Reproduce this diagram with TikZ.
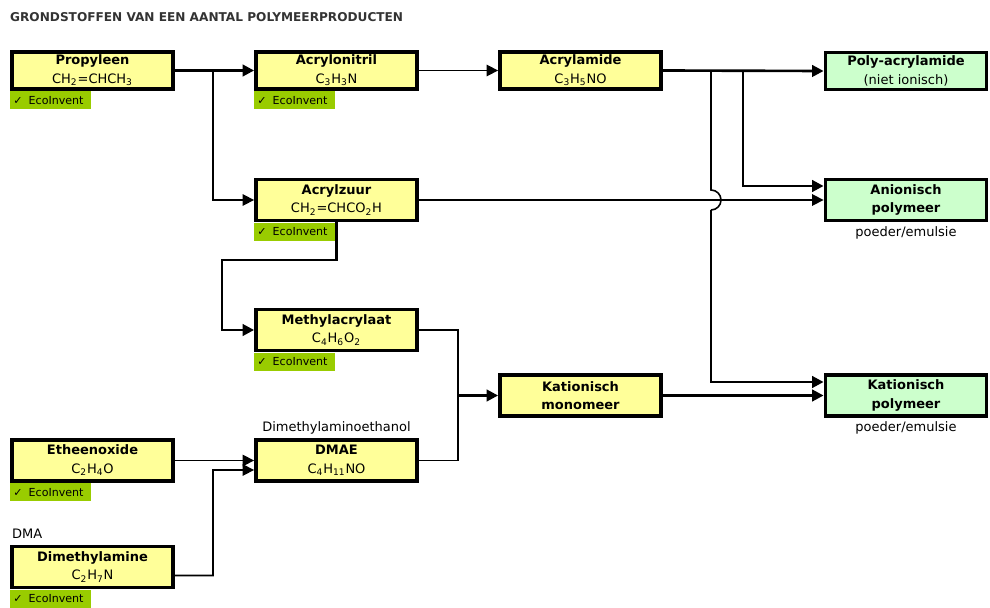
\documentclass[tikz,border=0pt]{standalone}
\usepackage{fontspec}
\setmainfont{DejaVu Sans}
\usetikzlibrary{arrows.meta,positioning}

\definecolor{stofgeel}{HTML}{FFFF99}
\definecolor{productgroen}{HTML}{CCFFCC}
\definecolor{ecogroen}{HTML}{99CC00}
\definecolor{titelgrijs}{HTML}{333333}

% subscript in formulas
\newcommand{\ix}[1]{\textsubscript{#1}}

\tikzset{
  stof/.style={draw, line width=2.2pt, fill=stofgeel, minimum width=3.22cm,
    minimum height=0.82cm, inner sep=0pt, align=center},
  laag/.style={minimum height=0.74cm},
  product/.style={stof, fill=productgroen},
  eco/.style={fill=ecogroen, anchor=north west, text width=1.5cm, inner xsep=0.06cm,
    minimum height=0.36cm, inner ysep=0pt, align=left, font=\fontsize{6.3}{7}\selectfont},
  noot/.style={inner sep=1pt},
  flow/.style={line width=0.9pt, -{Triangle[length=6.5pt,width=6.5pt]}},
  thickflow/.style={flow, line width=1.5pt},
  link/.style={line width=0.9pt},
}

\begin{document}
\begin{tikzpicture}[x=0.02cm, y=-0.02cm, font=\fontsize{7.4}{10.5}\selectfont]
    \useasboundingbox (0,0) rectangle (990,608);

    %Title
    \node[anchor=west, text=titelgrijs, font=\fontsize{6.9}{8}\selectfont\bfseries] (titel) at (4,17)
        {GRONDSTOFFEN VAN EEN AANTAL POLYMEERPRODUCTEN};

    % Raw materials and intermediates
    \node[stof, laag] (prop) at (92.5,70.5) {\textbf{Propyleen}\\CH\ix{2}=CHCH\ix{3}};
    \node[stof, laag] (acn) at (336.5,70.5) {\textbf{Acrylonitril}\\C\ix{3}H\ix{3}N};
    \node[stof, laag] (acm) at (580.5,70.5) {\textbf{Acrylamide}\\C\ix{3}H\ix{5}NO};
    \node[stof] (acz) at (336.5,200) {\textbf{Acrylzuur}\\CH\ix{2}=CHCO\ix{2}H};
    \node[stof] (macr) at (336.5,330) {\textbf{Methylacrylaat}\\C\ix{4}H\ix{6}O\ix{2}};
    \node[stof] (kmon) at (580.5,395.5) {\textbf{Kationisch}\\\textbf{monomeer}};
    \node[stof] (eo) at (92.5,460.5) {\textbf{Etheenoxide}\\C\ix{2}H\ix{4}O};
    \node[stof] (dmae) at (336.5,460.5) {\textbf{DMAE}\\C\ix{4}H\ix{11}NO};
    \node[stof] (dma) at (92.5,567) {\textbf{Dimethylamine}\\C\ix{2}H\ix{7}N};

    % End products
    \node[product, laag] (pam) at (906,71) {\textbf{Poly-acrylamide}\\(niet ionisch)};
    \node[product] (anion) at (906,200) {\textbf{Anionisch}\\\textbf{polymeer}};
    \node[product] (kpol) at (906,395.5) {\textbf{Kationisch}\\\textbf{polymeer}};

    % EcoInvent tags
    \foreach \stof in {prop, acn, acz, macr, eo, dma}
        \node[eco] (\stof-eco) at (\stof.south west) {✓\hspace{0.12cm}EcoInvent};

    % Notes
    \node[noot, above=1pt of dmae] (dmae-naam) {Dimethylaminoethanol};
    \node[noot, anchor=south west] (dma-naam) at ([yshift=2pt]dma.north west) {DMA};
    \node[noot, below=1pt of anion] (anion-vorm) {poeder/emulsie};
    \node[noot, below=1pt of kpol] (kpol-vorm) {poeder/emulsie};

    % Propyleen to acrylonitril and acrylzuur
    \coordinate (split1) at (213,70.5);
    \draw[thickflow] (prop.east) -- (acn.west);
    \draw[flow] (split1) |- (acz.west);

    % Acrylonitril to acrylamide to the polymers
    \draw[flow] (acn.east) -- (acm.west);
    \draw[thickflow] (acm.east) -- (pam.west);
    \coordinate (split2) at (743,70.5);
    \draw[thickflow] (split2) |- ([yshift=0.28cm]anion.west);
    \draw[flow] (acz.east) -- (anion.west);

    % Branch to kationisch polymeer, hopping over the acrylzuur line
    \coordinate (split3) at (711,70.5);
    \coordinate (hoptop) at (711,190);
    \coordinate (hopbot) at (711,210);
    \draw[link] (split3) -- (hoptop) arc[start angle=-90, end angle=90, radius=10];
    \draw[thickflow] (hopbot) |- ([yshift=0.27cm]kpol.west);

    % Acrylzuur to methylacrylaat
    \coordinate (bend1) at (222,260);
    \draw[thickflow] (acz.south) |- (bend1) |- (macr.west);

    % Methylacrylaat and DMAE to kationisch monomeer
    \coordinate (merge) at (458,395.5);
    \draw[link] (macr.east) -| (merge);
    \draw[link] (dmae.east) -| (merge);
    \draw[thickflow] (merge) -- (kmon.west);
    \draw[thickflow] (kmon.east) -- (kpol.west);

    % Etheenoxide and dimethylamine to DMAE
    \coordinate (bend2) at (213,470);
    \draw[flow] (eo.east) -- (dmae.west);
    \draw[flow] ([yshift=-0.17cm]dma.east) -| (bend2) -- ([yshift=-0.19cm]dmae.west);
\end{tikzpicture}
\end{document}
